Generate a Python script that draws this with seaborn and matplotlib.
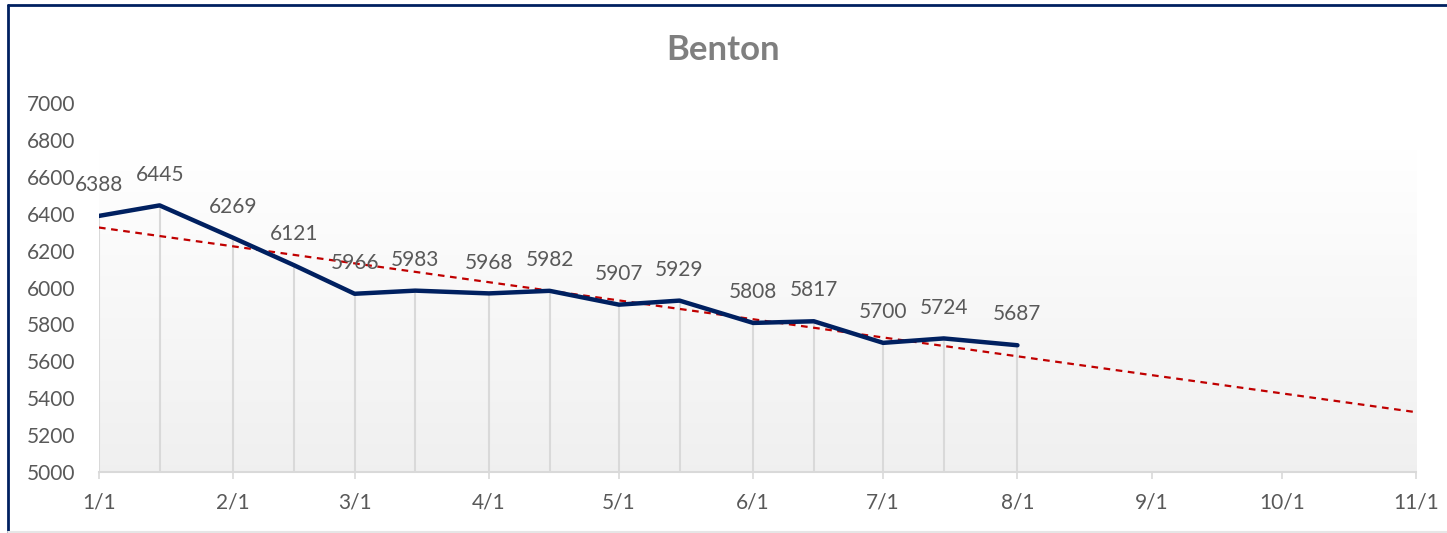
import numpy as np
import pandas as pd
import matplotlib.pyplot as plt
import seaborn as sns
from matplotlib.lines import Line2D

# data (day offset from 1/1)
day = [0, 14, 31, 45, 59, 73, 90, 104, 120, 134, 151, 165, 181, 195, 212]
count = [6388, 6445, 6269, 6121, 5966, 5983, 5968, 5982, 5907, 5929, 5808, 5817, 5700, 5724, 5687]
tick_days = [0, 31, 59, 90, 120, 151, 181, 212, 243, 273, 304]
tick_labels = ["1/1", "2/1", "3/1", "4/1", "5/1", "6/1", "7/1", "8/1", "9/1", "10/1", "11/1"]
y_ticks = [5000, 5200, 5400, 5600, 5800, 6000, 6200, 6400, 6600, 6800, 7000]

df = pd.DataFrame({"day": day, "count": count})

sns.set_theme(style="white")
plt.rcParams['font.family'] = ['Lato', 'DejaVu Sans']

fig = plt.figure(figsize=(14.47, 5.33), dpi=100)
ax = fig.add_axes([0.0684, 0.1144, 0.9102, 0.6924])

# background gradient white -> light gray
grad = np.linspace(1.0, 0.94, 256).reshape(-1, 1)
ax.imshow(np.dstack([grad, grad, grad]), extent=[0, 305.5, 5000, 6750],
          aspect='auto', zorder=0, origin='upper')
ax.set_xlim(0, 304)
ax.set_ylim(5000, 7000)

# drop lines
ax.vlines(df["day"], 5000, df["count"], color="#d9d9d9", lw=1.5, zorder=1)

# linear trendline extended over the full axis
sns.regplot(data=df, x="day", y="count", ax=ax, scatter=False, ci=None, truncate=False,
            line_kws=dict(color="#c00000", lw=1.6, ls=(0, (3, 2.5)), zorder=3))

sns.lineplot(data=df, x="day", y="count", ax=ax, color="#002060", lw=3.2, zorder=4)

for d, c in zip(day, count):
    ax.annotate(str(c), (d, c), xytext=(0, 15), textcoords="offset points",
                ha="center", va="bottom", fontsize=15, color="#595959")

ax.set_xlim(0, 304)
ax.set_ylim(5000, 7000)
ax.set_xticks(tick_days)
ax.set_xticklabels(tick_labels)
ax.set_yticks(y_ticks)
ax.set_xlabel("")
ax.set_ylabel("")
ax.tick_params(axis="x", colors="#595959", labelsize=15, length=5, width=1.2,
               color="#d9d9d9", direction="out", pad=10, bottom=True)
ax.tick_params(axis="y", colors="#595959", labelsize=15, length=0)
for lab in ax.get_yticklabels():
    lab.set_horizontalalignment("left")
ax.yaxis.set_tick_params(pad=52)

for s in ["left", "right", "top"]:
    ax.spines[s].set_visible(False)
ax.spines["bottom"].set_color("#d9d9d9")
ax.spines["bottom"].set_linewidth(1.5)

fig.text(0.5, 1 - 50 / 533, "Benton", fontsize=25, fontweight="bold", color="#7f7f7f",
         ha="center", va="center")

# chart frame (navy on left/top, light at bottom)
fig.add_artist(Line2D([8 / 1447, 8 / 1447], [0, 1 - 5 / 533], color="#002060", lw=2))
fig.add_artist(Line2D([8 / 1447, 1], [1 - 5 / 533, 1 - 5 / 533], color="#002060", lw=2))
fig.add_artist(Line2D([8 / 1447, 1], [1.5 / 533, 1.5 / 533], color="#e6e6e6", lw=1.5))

fig.savefig("out.png", dpi=100)
